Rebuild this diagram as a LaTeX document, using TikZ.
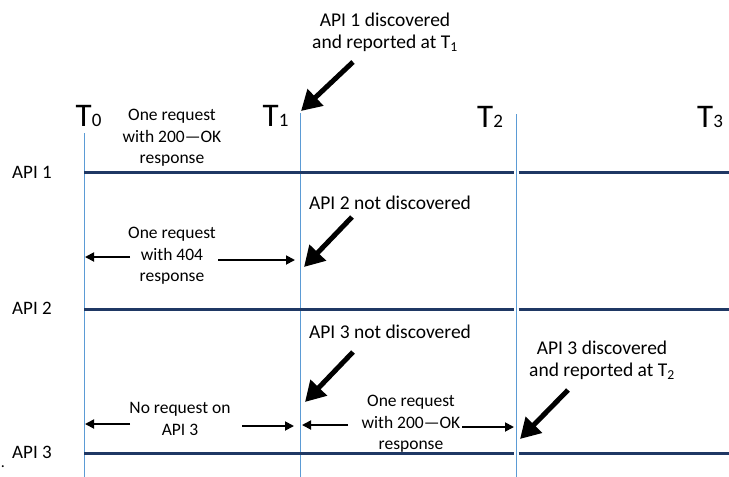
\documentclass[tikz,border=0pt]{standalone}
\usepackage{fontspec}
\setmainfont{Carlito}
\usetikzlibrary{arrows.meta}
\definecolor{vline}{RGB}{91,155,213}
\definecolor{hline}{RGB}{31,56,100}
\newcommand\Tbig{\fontsize{33}{33}\selectfont}
\newcommand\Tsmall{\fontsize{19}{19}\selectfont}
\begin{document}
\begin{tikzpicture}[x=1pt,y=-1pt,
  txt/.style={font=\fontsize{17.5}{21.5}\selectfont, align=center, inner sep=0pt},
  call/.style={font=\fontsize{19.5}{22}\selectfont, align=center, inner sep=0pt},
  apilab/.style={font=\fontsize{19}{22}\selectfont, inner sep=0pt},
  tlab/.style={anchor=base west, inner sep=0pt},
  timeline/.style={vline, line width=1pt},
  apiline/.style={hline, line width=3pt},
  bigarrow/.style={line width=5pt, -{Triangle[length=20pt,width=22pt]}},
  smallarrow/.style={line width=1.8pt, -{Triangle[length=9pt,width=9pt]}}
]
\useasboundingbox (0,0) rectangle (729,477);

% time lines
\coordinate (t0top) at (84,133);  \coordinate (t0bot) at (84,477);
\coordinate (t1top) at (300,113); \coordinate (t1bot) at (300,477);
\coordinate (t2top) at (516,114); \coordinate (t2bot) at (516,477);
\draw[timeline] (t0top) -- (t0bot);
\draw[timeline] (t1top) -- (t1bot);
\draw[timeline] (t2top) -- (t2bot);

% API lines
\foreach \y/\n in {172.5/1,309/2,453/3}{
  \coordinate (a\n l) at (84,\y);
  \coordinate (a\n m) at (514.3,\y);
  \coordinate (a\n n) at (518.7,\y);
  \coordinate (a\n r) at (729,\y);
  \draw[apiline] (a\n l) -- (a\n m);
  \draw[apiline] (a\n n) -- (a\n r);
}

% API labels
\node[apilab] (api1) at (32,172) {API 1};
\node[apilab] (api2) at (32,308) {API 2};
\node[apilab] (api3) at (32,452) {API 3};
\node[txt, font=\fontsize{16}{16}\selectfont] (dot) at (3,467) {.};

% T labels
\node[tlab] (T0) at (75.5,126) {\Tbig T\Tsmall 0};
\node[tlab] (T1) at (262.5,126) {\Tbig T\Tsmall 1};
\node[tlab] (T2) at (477,127) {\Tbig T\Tsmall 2};
\node[tlab] (T3) at (697,127) {\Tbig T\Tsmall 3};

% API 1
\node[call] (d1) at (385,32) {API 1 discovered\\and reported at T\textsubscript{1}};
\coordinate (d1s) at (353,62); \coordinate (d1e) at (301,111);
\draw[bigarrow] (d1s) -- (d1e);
\node[txt] (r1) at (172,138) {One request\\with 200—OK\\response};

% API 2
\node[call] (d2) at (390,203) {API 2 not discovered};
\coordinate (d2s) at (352,217); \coordinate (d2e) at (304,267);
\draw[bigarrow] (d2s) -- (d2e);
\node[txt] (r2) at (172,256) {One request\\with 404\\response};
\coordinate (r2l) at (130,257); \coordinate (r2le) at (85,257);
\coordinate (r2r) at (218,260); \coordinate (r2re) at (295,260);
\draw[smallarrow] (r2l) -- (r2le);
\draw[smallarrow] (r2r) -- (r2re);

% API 3
\node[call] (d3) at (390,332) {API 3 not discovered};
\coordinate (d3s) at (353,352); \coordinate (d3e) at (305,402);
\draw[bigarrow] (d3s) -- (d3e);
\node[txt] (r3) at (180,419) {No request on\\API 3};
\coordinate (r3l) at (130,424); \coordinate (r3le) at (85,424);
\coordinate (r3r) at (242,426); \coordinate (r3re) at (294,426);
\draw[smallarrow] (r3l) -- (r3le);
\draw[smallarrow] (r3r) -- (r3re);

\node[txt] (r4) at (411,424) {One request\\with 200—OK\\response};
\coordinate (r4l) at (348,425); \coordinate (r4le) at (302,425);
\coordinate (r4r) at (462,427); \coordinate (r4re) at (514,427);
\draw[smallarrow] (r4l) -- (r4le);
\draw[smallarrow] (r4r) -- (r4re);

\node[call] (d4) at (602,360) {API 3 discovered\\and reported at T\textsubscript{2}};
\coordinate (d4s) at (568,390); \coordinate (d4e) at (520,439);
\draw[bigarrow] (d4s) -- (d4e);
\end{tikzpicture}
\end{document}
